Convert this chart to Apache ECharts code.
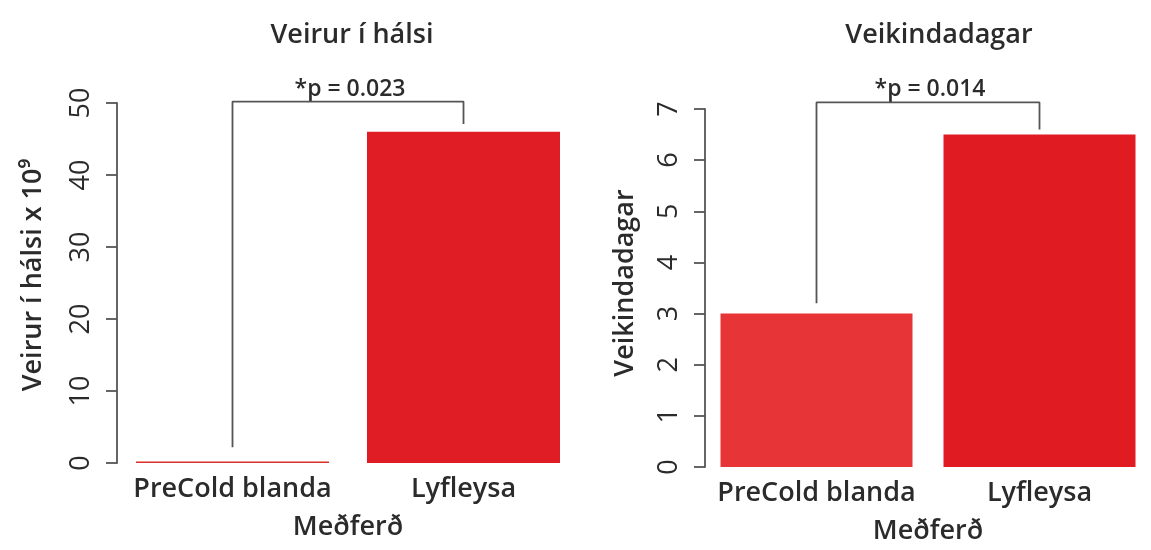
<!DOCTYPE html>
<html>
<head>
<meta charset="utf-8">
<script src="https://cdn.jsdelivr.net/npm/echarts@6/dist/echarts.min.js"></script>
<style>
  html, body { margin: 0; padding: 0; background: #ffffff; }
  #chart { width: 1151px; height: 550px; }
</style>
</head>
<body>
<div id="chart"></div>
<script>
// ---- data ----
const categories = ['PreCold blanda', 'Lyfleysa'];
const virusValues = [0.2, 46];          // Veirur í hálsi x 10^9
const sickDayValues = [3.0, 6.5];       // Veikindadagar
const virusTicks = { min: 0, max: 50, interval: 10 };
const sickTicks = { min: 0, max: 7, interval: 1 };
// significance brackets: [left-foot, top, top, right-foot] heights
const virusBracket = [2.2, 50.2, 50.2, 47.1];
const sickBracket = [3.2, 7.13, 7.13, 6.6];
const virusP = '*p = 0.023';
const sickP = '*p = 0.014';

const FONT = 'Open Sans';
const FW = 600;
const FS = 27;
const TXT = '#2b2b2b';
const AX = '#555555';
const virusColors = ['#d9302f', '#e01d24'];
const sickColors = ['#e73537', '#e01b22'];

const chart = echarts.init(document.getElementById('chart'), null, { renderer: 'canvas' });

function xAx(gridIndex) {
  return {
    type: 'category', gridIndex, data: categories,
    axisLine: { show: false }, axisTick: { show: false },
    axisLabel: { color: TXT, fontFamily: FONT, fontWeight: FW, fontSize: FS, margin: 13,
                 interval: 0, hideOverlap: false },
    name: 'Meðferð', nameLocation: 'middle', nameGap: 51,
    nameTextStyle: { color: TXT, fontFamily: FONT, fontWeight: FW, fontSize: FS }
  };
}
function yAx(gridIndex, t, name, gap, pad) {
  return {
    type: 'value', gridIndex, min: t.min, max: t.max, interval: t.interval,
    splitLine: { show: false },
    axisLine: { show: true, lineStyle: { color: AX, width: 1.8 } },
    axisTick: { show: true, length: 11, lineStyle: { color: AX, width: 1.8 } },
    axisLabel: { color: TXT, fontFamily: FONT, fontSize: 27, rotate: 90, margin: 22 },
    name, nameLocation: 'middle', nameGap: gap, nameRotate: 90,
    nameTextStyle: { color: TXT, fontFamily: FONT, fontWeight: FW, fontSize: FS, padding: pad }
  };
}
function pairs(vals) {
  return [[0, vals[0]], [0, vals[1]], [1, vals[2]], [1, vals[3]]];
}

chart.setOption({
  backgroundColor: '#ffffff',
  animation: false,
  title: [
    { text: 'Veirur í hálsi', left: 347, top: 17, textAlign: 'center',
      textStyle: { color: TXT, fontFamily: FONT, fontSize: FS, fontWeight: FW } },
    { text: 'Veikindadagar', left: 934, top: 17, textAlign: 'center',
      textStyle: { color: TXT, fontFamily: FONT, fontSize: FS, fontWeight: FW } }
  ],
  grid: [
    { left: 117, width: 462, top: 103, bottom: 87 },
    { left: 705, width: 460, top: 109, bottom: 83 }
  ],
  xAxis: [xAx(0), xAx(1)],
  yAxis: [
    yAx(0, virusTicks, 'Veirur í hálsi x 10⁹', 70, [0, 0, 0, 16]),
    yAx(1, sickTicks, 'Veikindadagar', 66, [0, 0, 0, 10])
  ],
  series: [
    { type: 'bar', xAxisIndex: 0, yAxisIndex: 0, barWidth: 193,
      data: virusValues.map((v, i) => ({ value: v, itemStyle: { color: virusColors[i] } })) },
    { type: 'bar', xAxisIndex: 1, yAxisIndex: 1, barWidth: 192,
      data: sickDayValues.map((v, i) => ({ value: v, itemStyle: { color: sickColors[i] } })) },
    { type: 'line', xAxisIndex: 0, yAxisIndex: 0, clip: false, symbol: 'none',
      lineStyle: { color: AX, width: 1.8 }, data: pairs(virusBracket), z: 5 },
    { type: 'line', xAxisIndex: 1, yAxisIndex: 1, clip: false, symbol: 'none',
      lineStyle: { color: AX, width: 1.8 }, data: pairs(sickBracket), z: 5 }
  ]
});

// p-value labels centred over each bracket, positioned through the axes
function pLabel(gridIdx, top, text) {
  const a = chart.convertToPixel({ xAxisIndex: gridIdx, yAxisIndex: gridIdx }, [0, top]);
  const b = chart.convertToPixel({ xAxisIndex: gridIdx, yAxisIndex: gridIdx }, [1, top]);
  return {
    type: 'text', x: (a[0] + b[0]) / 2 + 2, y: a[1] - 1,
    style: { text, fill: TXT, font: FW + ' 23px "' + FONT + '"', align: 'center', verticalAlign: 'bottom' }
  };
}
chart.setOption({
  graphic: [pLabel(0, virusBracket[1], virusP), pLabel(1, sickBracket[1], sickP)]
});
</script>
</body>
</html>
